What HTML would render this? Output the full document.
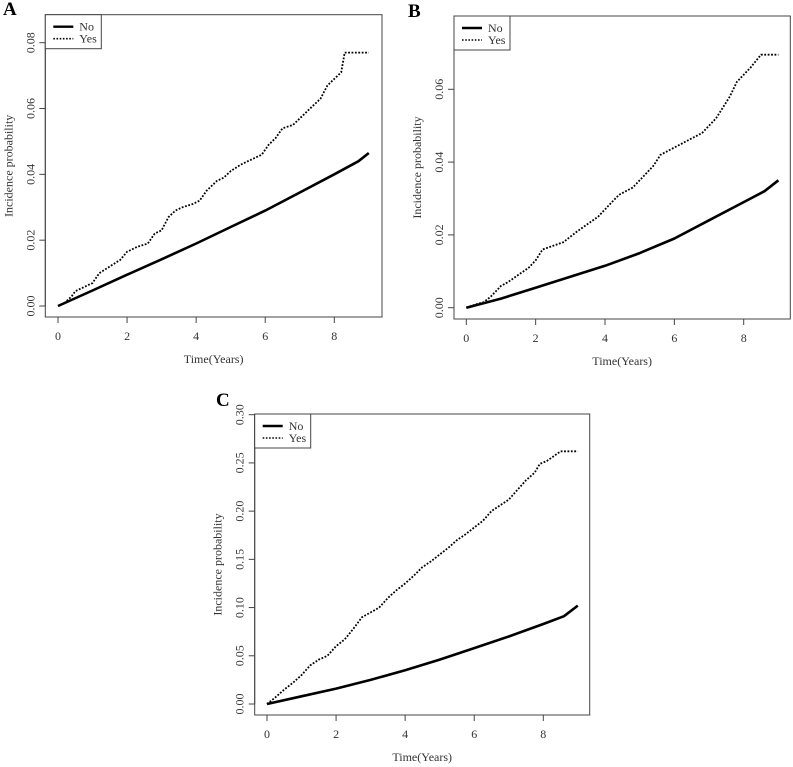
<!DOCTYPE html>
<html><head><meta charset="utf-8">
<style>
html,body{margin:0;padding:0;background:#fff;}
svg{display:block;font-family:"Liberation Serif",serif;}
</style></head>
<body>
<svg id="fig" width="793" height="767" viewBox="0 0 793 767" xmlns="http://www.w3.org/2000/svg"></svg>
<script>
// Panel A data
const aNoX = [0,1,2,3,4,5,6,7,8,8.7,9];
const aNoY = [0,0.0047,0.0095,0.0142,0.019,0.024,0.029,0.0345,0.040,0.044,0.0465];
const aYesX = [0,0.2,0.4,0.5,0.8,1,1.2,1.5,1.8,2,2.3,2.6,2.8,3,3.2,3.4,3.6,3.9,4.1,4.3,4.6,4.8,5,5.3,5.7,5.9,6.1,6.3,6.5,6.8,7,7.2,7.4,7.6,7.8,8,8.2,8.3,9];
const aYesY = [0,0.001,0.003,0.0045,0.006,0.007,0.010,0.012,0.014,0.0165,0.018,0.019,0.022,0.023,0.027,0.029,0.030,0.031,0.032,0.035,0.038,0.039,0.041,0.043,0.045,0.046,0.049,0.051,0.054,0.055,0.057,0.059,0.061,0.063,0.067,0.069,0.071,0.077,0.077];
// Panel B data
const bNoX = [0,1,2,3,4,5,6,7,8,8.6,9];
const bNoY = [0,0.0025,0.0055,0.0085,0.0115,0.015,0.019,0.024,0.029,0.032,0.035];
const bYesX = [0,0.3,0.5,0.7,1,1.2,1.5,1.8,2,2.2,2.5,2.8,3,3.2,3.5,3.8,4,4.2,4.4,4.6,4.8,5,5.2,5.4,5.6,5.8,6,6.2,6.5,6.8,7,7.2,7.4,7.6,7.8,8,8.2,8.5,9];
const bYesY = [0,0.001,0.0015,0.003,0.006,0.007,0.009,0.011,0.013,0.016,0.017,0.018,0.0195,0.021,0.023,0.025,0.027,0.029,0.031,0.032,0.033,0.035,0.037,0.039,0.042,0.043,0.044,0.045,0.0465,0.048,0.050,0.052,0.055,0.058,0.062,0.064,0.066,0.0695,0.0695];
// Panel C data
const cNoX = [0,1,2,3,4,5,6,7,8,8.6,9];
const cNoY = [0,0.008,0.016,0.025,0.035,0.046,0.058,0.070,0.083,0.091,0.102];
const cYesX = [0,0.25,0.5,0.75,1,1.25,1.5,1.75,2,2.25,2.5,2.75,3,3.25,3.5,3.75,4,4.25,4.5,4.75,5,5.25,5.5,5.75,6,6.25,6.5,6.75,7,7.25,7.5,7.75,7.9,8.1,8.3,8.5,9];
const cYesY = [0,0.007,0.015,0.022,0.03,0.04,0.046,0.05,0.06,0.067,0.078,0.09,0.095,0.1,0.11,0.118,0.125,0.133,0.142,0.148,0.155,0.162,0.17,0.176,0.183,0.19,0.2,0.206,0.212,0.222,0.232,0.24,0.249,0.252,0.257,0.262,0.262];
const aTicksY = [0,0.02,0.04,0.06,0.08];
const aTickLabelsY = ["0.00","0.02","0.04","0.06","0.08"];
const bTicksY = [0,0.02,0.04,0.06];
const bTickLabelsY = ["0.00","0.02","0.04","0.06"];
const cTicksY = [0,0.05,0.1,0.15,0.2,0.25,0.3];
const cTickLabelsY = ["0.00","0.05","0.10","0.15","0.20","0.25","0.30"];
const ticksX = [0,2,4,6,8];
const tickLabelsX = ["0","2","4","6","8"];

const NS = "http://www.w3.org/2000/svg";
const svg = document.getElementById('fig');
function mk(tag, attrs, parent, text){
  const e = document.createElementNS(NS, tag);
  for (const k in attrs) e.setAttribute(k, attrs[k]);
  if (text !== undefined) e.textContent = text;
  (parent || svg).appendChild(e);
  return e;
}

function panel(p){
  const g = mk('g', {});
  
  
  const sx = v => p.x0 + (p.x8 - p.x0) * v / 8;
  const sy = v => p.y0 + (p.yT - p.y0) * v / p.yTv;
  const L = mk('text', {x: p.lx, y: p.ly, 'font-size': 19, 'font-weight': 'bold'}, g, p.id);
  
  
  const box = mk('rect', {x: p.bl, y: p.bt, width: p.br - p.bl, height: p.bb - p.bt, fill: 'none', stroke: '#444', 'stroke-width': 1}, g);
  
  
  const xa = mk('g', {}, g);
  
  
  mk('line', {x1: sx(ticksX[0]), x2: sx(ticksX[ticksX.length-1]), y1: p.bb, y2: p.bb, stroke: '#444'}, xa);
  ticksX.forEach((t, i) => {
    mk('line', {x1: sx(t), x2: sx(t), y1: p.bb, y2: p.bb + 6, stroke: '#444'}, xa);
    const tl = mk('text', {x: sx(t), y: p.bb + 23, 'font-size': 12, 'text-anchor': 'middle', fill: '#333'}, xa, tickLabelsX[i]);
    
    
  });
  const xt = mk('text', {x: (p.bl + p.br) / 2, y: p.bb + 46, 'font-size': 12, 'text-anchor': 'middle', fill: '#333'}, g, 'Time(Years)');
  
  
  const ya = mk('g', {}, g);
  
  
  mk('line', {x1: p.bl, x2: p.bl, y1: sy(p.ticks[0]), y2: sy(p.ticks[p.ticks.length-1]), stroke: '#444'}, ya);
  p.ticks.forEach((t, i) => {
    mk('line', {x1: p.bl - 6, x2: p.bl, y1: sy(t), y2: sy(t), stroke: '#444'}, ya);
    const tx = p.bl - 11, ty = sy(t);
    const tl = mk('text', {x: tx, y: ty, 'font-size': 12, 'text-anchor': 'middle', fill: '#333', transform: `rotate(-90 ${tx} ${ty})`}, ya, p.labels[i]);
    
    
  });
  const yx = p.bl - 33, yy = (p.bt + p.bb) / 2;
  const yt = mk('text', {x: yx, y: yy, 'font-size': 12, 'text-anchor': 'middle', fill: '#333', transform: `rotate(-90 ${yx} ${yy})`}, g, 'Incidence probability');
  
  
  let d = p.noX.map((x, i) => (i ? 'L' : 'M') + sx(x).toFixed(1) + ' ' + sy(p.noY[i]).toFixed(1)).join(' ');
  const nl = mk('path', {d, fill: 'none', stroke: '#000', 'stroke-width': 2.6, 'stroke-linejoin': 'round'}, g);
  
  
  d = p.yesX.map((x, i) => (i ? 'L' : 'M') + sx(x).toFixed(1) + ' ' + sy(p.yesY[i]).toFixed(1)).join(' ');
  const yl = mk('path', {d, fill: 'none', stroke: '#000', 'stroke-width': 1.8, 'stroke-dasharray': '1.8,1.6'}, g);
  
  
  const lg = mk('g', {}, g);
  
  
  mk('rect', {x: p.bl, y: p.bt, width: 56, height: 34, fill: '#fff', stroke: '#444'}, lg);
  mk('line', {x1: p.bl + 8, x2: p.bl + 28, y1: p.bt + 12, y2: p.bt + 12, stroke: '#000', 'stroke-width': 2.4}, lg);
  mk('line', {x1: p.bl + 8, x2: p.bl + 28, y1: p.bt + 24, y2: p.bt + 24, stroke: '#000', 'stroke-width': 1.6, 'stroke-dasharray': '1.6,1.6'}, lg);
  const e1 = mk('text', {x: p.bl + 34, y: p.bt + 16, 'font-size': 12, fill: '#333'}, lg, 'No');
  
  
  const e2 = mk('text', {x: p.bl + 34, y: p.bt + 28, 'font-size': 12, fill: '#333'}, lg, 'Yes');
  
  
}

panel({id:'A', lx:3, ly:15, bl:45.3, br:382, bt:14.7, bb:317, x0:58, x8:334.3, y0:306, yT:42.7, yTv:0.08,
  ticks:aTicksY, labels:aTickLabelsY, noX:aNoX, noY:aNoY, yesX:aYesX, yesY:aYesY});
panel({id:'B', lx:408, ly:17, bl:454, br:790.3, bt:16, bb:319, x0:466.3, x8:743.7, y0:307.7, yT:89.3, yTv:0.06,
  ticks:bTicksY, labels:bTickLabelsY, noX:bNoX, noY:bNoY, yesX:bYesX, yesY:bYesY});
panel({id:'C', lx:216, ly:406, bl:254.7, br:589.7, bt:414, bb:715, x0:267, x8:543.3, y0:704, yT:414.7, yTv:0.30,
  ticks:cTicksY, labels:cTickLabelsY, noX:cNoX, noY:cNoY, yesX:cYesX, yesY:cYesY});
</script>
</body></html>
